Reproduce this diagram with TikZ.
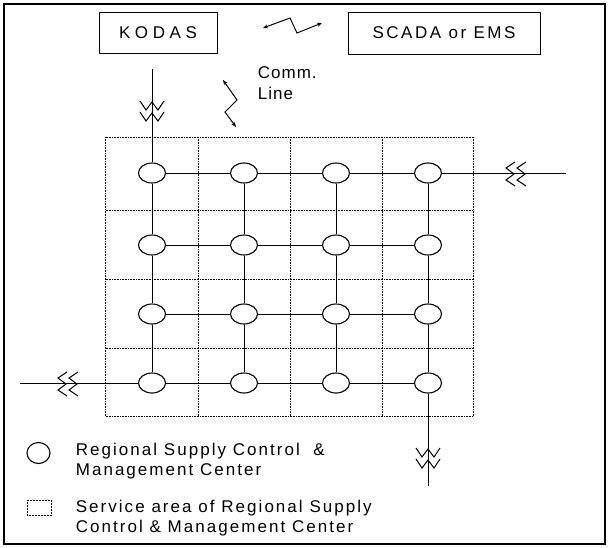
\documentclass[tikz,border=0pt]{standalone}
\usepackage{fontspec}
\setmainfont{Liberation Sans}[LetterSpace=12]
\newfontfamily\boxfont{Liberation Sans}[LetterSpace=15]
\newfontfamily\kodasfont{Liberation Sans}[LetterSpace=27]
\newfontfamily\commfont{Liberation Sans}[LetterSpace=6]
\usetikzlibrary{shapes.geometric, arrows.meta}

\tikzset{
  zlink/.pic={
    \draw (-12,0) -- (-6,9) -- (0,1) -- (6,9) -- (12,0);
    \draw (-12,11) -- (-6,20) -- (0,12) -- (6,20) -- (12,11);
  }
}

\begin{document}
\begin{tikzpicture}[x=1pt, y=-1pt, >={Stealth[length=5pt, width=4pt]}, line width=1pt,
    rsc/.style={draw, ellipse, line width=1.1pt, inner sep=0pt, minimum width=27pt, minimum height=20pt},
    sysbox/.style={draw, rectangle, inner sep=0pt},
    area/.style={densely dotted, line width=0.6pt},
    legtext/.style={anchor=west, align=left, font=\fontsize{17}{20.5}\selectfont}]
    \useasboundingbox (0,0) rectangle (609,547);
    \draw[line width=1.3pt] (4,4) rectangle (605,544);

    \node[sysbox, minimum width=118pt, minimum height=41pt, font=\kodasfont\fontsize{17}{20}\selectfont] (kodas) at (158,32.5) {KODAS};
    \node[sysbox, minimum width=192pt, minimum height=42pt, font=\boxfont\fontsize{17}{20}\selectfont] (scada) at (444,33) {SCADA or EMS};

    \draw[<->] (263,28) -- (290,18) -- (297,33) -- (322,23);
    \draw[<->] (223,80) -- (237,100) -- (225,112) -- (236,127);
    \node[anchor=west, align=left, font=\commfont\fontsize{17}{21}\selectfont] (comm) at (254,83) {Comm.\\Line};

    \foreach \x in {105.5,198,290,382,473.5}
        \draw[area] (\x,137) -- (\x,416.5);
    \foreach \y in {137,210,279,348,416.5}
        \draw[area] (105.5,\y) -- (473.5,\y);

    \foreach \r/\y in {1/173,2/245,3/314,4/383}
        \foreach \c/\x in {1/152,2/244,3/336,4/428}
            \node[rsc] (n\r\c) at (\x,\y) {};
    \foreach \r in {1,...,4}
        \foreach \c/\d in {1/2,2/3,3/4}
            \draw (n\r\c) -- (n\r\d);
    \foreach \c in {1,...,4}
        \foreach \r/\s in {1/2,2/3,3/4}
            \draw (n\r\c) -- (n\s\c);

    \coordinate (kin) at (152,69);
    \coordinate (eout) at (566,173);
    \coordinate (wout) at (20,383);
    \coordinate (sout) at (428,486);
    \draw (kin) -- (n11);
    \draw (n14) -- (eout);
    \draw (wout) -- (n41);
    \draw (n44) -- (sout);
    \pic at (152,101) {zlink};
    \pic at (428,448) {zlink};
    \pic[rotate=-90] at (526,174) {zlink};
    \pic[rotate=-90] at (78,384) {zlink};

    \node[rsc, minimum width=23pt, minimum height=21pt] (lgc) at (38.5,453) {};
    \draw[area, line width=0.5pt] (27,500) rectangle (51,515);
    \node[legtext] (lgct) at (72,461) {Regional Supply Control\ \ \&\\Management Center};
    \node[legtext] (lgat) at (72,518) {Service area of Regional Supply\\Control \& Management Center};
\end{tikzpicture}
\end{document}
